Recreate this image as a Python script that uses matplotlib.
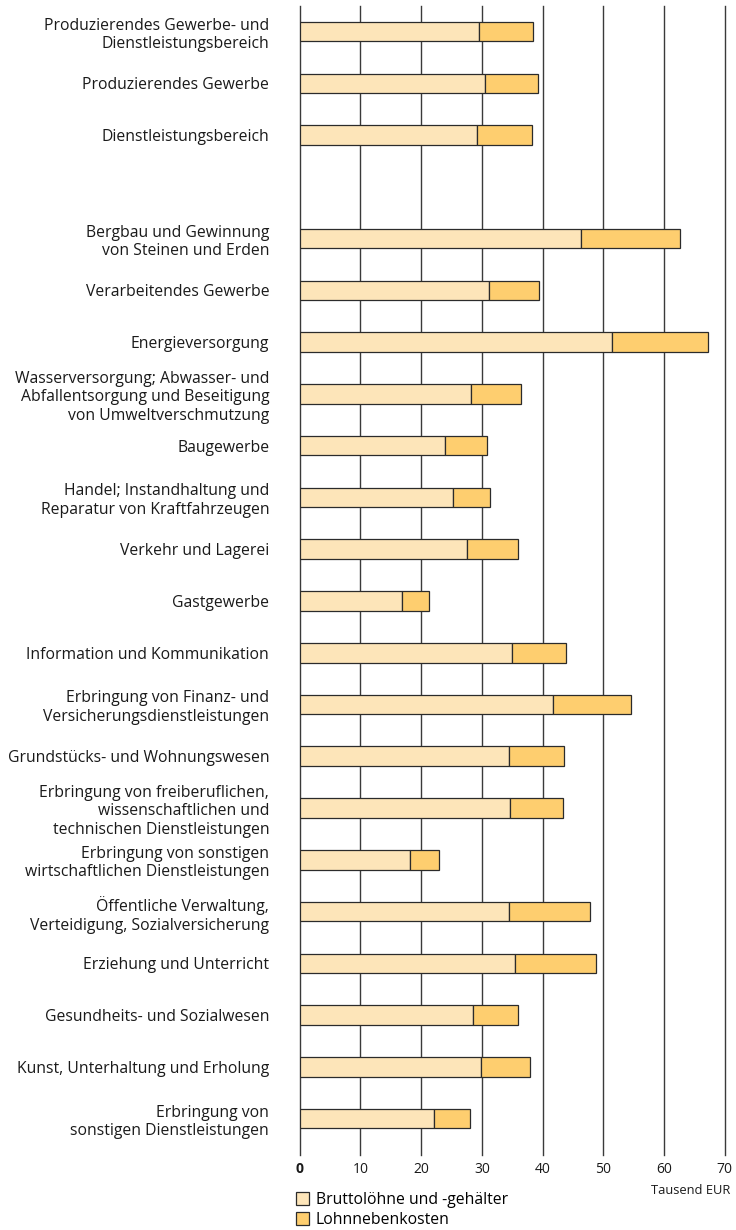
import numpy as np
import matplotlib.pyplot as plt
from matplotlib.patches import Patch

# Arbeitnehmerentgelt je Arbeitnehmer nach Wirtschaftsbereichen (Tausend EUR)
bereiche = [
    'Produzierendes Gewerbe- und\nDienstleistungsbereich',
    'Produzierendes Gewerbe',
    'Dienstleistungsbereich',
    None,
    'Bergbau und Gewinnung\nvon Steinen und Erden',
    'Verarbeitendes Gewerbe',
    'Energieversorgung',
    'Wasserversorgung; Abwasser- und\nAbfallentsorgung und Beseitigung\nvon Umweltverschmutzung',
    'Baugewerbe',
    'Handel; Instandhaltung und\nReparatur von Kraftfahrzeugen',
    'Verkehr und Lagerei',
    'Gastgewerbe',
    'Information und Kommunikation',
    'Erbringung von Finanz- und\nVersicherungsdienstleistungen',
    'Grundstücks- und Wohnungswesen',
    'Erbringung von freiberuflichen,\nwissenschaftlichen und\ntechnischen Dienstleistungen',
    'Erbringung von sonstigen\nwirtschaftlichen Dienstleistungen',
    'Öffentliche Verwaltung,\nVerteidigung, Sozialversicherung',
    'Erziehung und Unterricht',
    'Gesundheits- und Sozialwesen',
    'Kunst, Unterhaltung und Erholung',
    'Erbringung von\nsonstigen Dienstleistungen',
]

brutto = [29.6, 30.6, 29.2, None, 46.3, 31.1, 51.5, 28.2, 24.0, 25.3, 27.5,
          16.9, 35.0, 41.8, 34.5, 34.6, 18.2, 34.4, 35.5, 28.6, 29.8, 22.2]
gesamt = [38.5, 39.2, 38.3, None, 62.6, 39.4, 67.3, 36.4, 30.8, 31.4, 35.9,
          21.3, 43.9, 54.5, 43.6, 43.4, 23.0, 47.8, 48.8, 36.0, 38.0, 28.1]

farbe_brutto = '#FDE5B9'
farbe_neben = '#FECE6F'
rand = '#2b2b2b'

idx = [i for i, b in enumerate(bereiche) if b is not None]
y = np.array(idx)
b_vals = np.array([brutto[i] for i in idx])
n_vals = np.array([gesamt[i] for i in idx]) - b_vals

fig = plt.figure(figsize=(7.36, 12.3), dpi=100)
ax = fig.add_axes([299.7 / 736, 1 - 1155 / 1230, 425 / 736, 1149 / 1230])

font_lab = ['Open Sans', 'DejaVu Sans']
font_cond = ['Liberation Sans Narrow', 'Open Sans', 'DejaVu Sans']

# Gitterlinien
for v in range(0, 80, 10):
    ax.axvline(v, color='#3a3a3a', lw=1.0, zorder=0, clip_on=False)

h = 0.377
ax.barh(y, b_vals, height=h, color=farbe_brutto, edgecolor=rand, lw=0.9, zorder=2)
ax.barh(y, n_vals, left=b_vals, height=h, color=farbe_neben, edgecolor=rand, lw=0.9, zorder=2)

ax.set_xlim(0, 70)
ax.set_ylim(21.705, -0.497)

ax.set_yticks(y)
ax.set_yticklabels([bereiche[i] for i in idx], fontsize=11.3, family=font_lab,
                   color='#1a1a1a', linespacing=1.22)
ax.tick_params(axis='y', length=0, pad=22)

ax.set_xticks(range(0, 80, 10))
ax.set_xticklabels([str(v) for v in range(0, 80, 10)], fontsize=10,
                   family=font_cond, color='#1a1a1a')
ax.get_xticklabels()[0].set_fontweight('bold')
ax.tick_params(axis='x', length=0, pad=5)

for s in ax.spines.values():
    s.set_visible(False)

fig.text(730 / 736, 1 - 1190 / 1230, 'Tausend EUR', ha='right', va='center',
         fontsize=9.3, family=font_cond, color='#1a1a1a')

handles = [Patch(facecolor=farbe_brutto, edgecolor=rand, lw=0.9),
           Patch(facecolor=farbe_neben, edgecolor=rand, lw=0.9)]
fig.legend(handles, ['Bruttolöhne und -gehälter', 'Lohnnebenkosten'],
           loc='upper left', bbox_to_anchor=(296 / 736, 1 - 1192 / 1230),
           frameon=False, handlelength=0.85, handleheight=0.85, handletextpad=0.4,
           labelspacing=0.25, borderpad=0, borderaxespad=0,
           prop={'family': font_lab, 'size': 11.3})

fig.savefig('out.png', dpi=100, facecolor='white')
